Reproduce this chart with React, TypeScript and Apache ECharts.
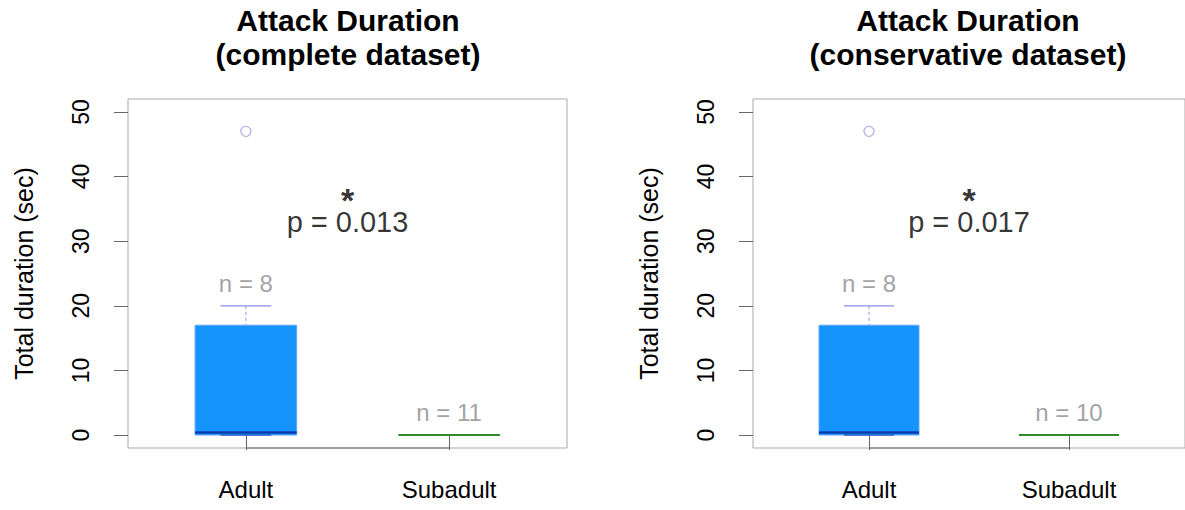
import React, { useEffect, useRef } from 'react';
import * as echarts from 'echarts';

// ---------- data ----------
const categories = ['Adult', 'Subadult'];
const yTicks = [0, 10, 20, 30, 40, 50];
const panelTitles = [
  ['Attack Duration', '(complete dataset)'],
  ['Attack Duration', '(conservative dataset)'],
];
// each row: [min, Q1, median, Q3, max]
const completeBoxes = [
  [0, 0, 0.4, 17, 20],
  [0, 0, 0, 0, 0],
];
const conservativeBoxes = [
  [0, 0, 0.4, 17, 20],
  [0, 0, 0, 0, 0],
];
const completeOutliers = [[1, 47]];
const conservativeOutliers = [[1, 47]];
const completeN = ['n = 8', 'n = 11'];
const conservativeN = ['n = 8', 'n = 10'];
const nLabelY = [23.5, 3.5];
const pTexts = ['p = 0.013', 'p = 0.017'];
const pLabelPos = [1.5, 33];
const starPos = [1.5, 36.4];
const yMin = -2;

// ---------- styles ----------
const FONT = '"Liberation Sans", Arial, Helvetica, sans-serif';
const boxStyles = [
  { fill: '#1493FA', border: '#6AA8F2', median: '#0A3CB0', whisker: '#8C8CE6', medianWidth: 2.5, full: true },
  { fill: '#1493FA', border: '#2E8B2E', median: '#2E8B2E', whisker: '#2E8B2E', medianWidth: 2, full: false },
];
const grids = [
  { left: 128, top: 99, width: 439, height: 349 },
  { left: 753, top: 99, width: 438, height: 349 },
];
const titleCenters = [348, 968];

function renderBox(params: any, api: any) {
  const x = api.value(0);
  const mn = api.value(1);
  const q1 = api.value(2);
  const md = api.value(3);
  const q3 = api.value(4);
  const mx = api.value(5);
  const st = boxStyles[params.dataIndex];
  const children: any[] = [];
  if (st.full) {
    const tl = api.coord([x - 0.25, q3]);
    const br = api.coord([x + 0.25, q1]);
    children.push({
      type: 'rect',
      shape: { x: tl[0], y: tl[1], width: br[0] - tl[0], height: br[1] - tl[1] },
      style: { fill: st.fill, stroke: st.border, lineWidth: 1 },
    });
    const wTop = api.coord([x, mx]);
    const wBot = api.coord([x, q3]);
    children.push({
      type: 'line',
      shape: { x1: wTop[0], y1: wTop[1], x2: wBot[0], y2: wBot[1] },
      style: { stroke: st.whisker, lineWidth: 1, lineDash: [3, 3] },
    });
    const c1 = api.coord([x - 0.125, mx]);
    const c2 = api.coord([x + 0.125, mx]);
    children.push({
      type: 'line',
      shape: { x1: c1[0], y1: c1[1], x2: c2[0], y2: c2[1] },
      style: { stroke: st.whisker, lineWidth: 1.2 },
    });
    const l1 = api.coord([x - 0.125, mn]);
    const l2 = api.coord([x + 0.125, mn]);
    children.push({
      type: 'line',
      shape: { x1: l1[0], y1: l1[1], x2: l2[0], y2: l2[1] },
      style: { stroke: st.median, lineWidth: 1 },
    });
  }
  const m1 = api.coord([x - 0.25, md]);
  const m2 = api.coord([x + 0.25, md]);
  children.push({
    type: 'line',
    shape: { x1: m1[0], y1: m1[1], x2: m2[0], y2: m2[1] },
    style: { stroke: st.median, lineWidth: st.medianWidth },
  });
  return { type: 'group', children };
}

function renderAxisSegment(_params: any, api: any) {
  const a = api.coord([api.value(0), yMin]);
  const b = api.coord([api.value(1), yMin]);
  return {
    type: 'line',
    shape: { x1: a[0], y1: a[1], x2: b[0], y2: b[1] },
    style: { stroke: '#666', lineWidth: 1 },
  };
}

function panelSeries(i: number, boxes: number[][], outliers: number[][], nTexts: string[], pText: string) {
  return [
    {
      type: 'custom',
      xAxisIndex: i,
      yAxisIndex: i,
      renderItem: renderAxisSegment,
      encode: { x: [0, 1] },
      data: [[1, categories.length]],
      silent: true,
      clip: false,
    },
    {
      type: 'custom',
      xAxisIndex: i,
      yAxisIndex: i,
      renderItem: renderBox,
      encode: { x: 0, y: [1, 2, 3, 4, 5] },
      data: boxes.map((b, k) => [k + 1, ...b]),
      silent: true,
    },
    {
      type: 'scatter',
      xAxisIndex: i,
      yAxisIndex: i,
      symbol: 'circle',
      symbolSize: 10,
      itemStyle: { color: 'rgba(0,0,0,0)', borderColor: '#9C9CE8', borderWidth: 1.2 },
      data: outliers,
      silent: true,
    },
    {
      type: 'scatter',
      xAxisIndex: i,
      yAxisIndex: i,
      symbolSize: 0,
      data: nLabelY.map((y, k) => [k + 1, y]),
      label: {
        show: true,
        position: 'inside',
        formatter: (p: any) => nTexts[p.dataIndex],
        color: '#8A8A8A',
        fontSize: 24,
        fontFamily: FONT,
      },
      silent: true,
    },
    {
      type: 'scatter',
      xAxisIndex: i,
      yAxisIndex: i,
      symbolSize: 0,
      data: [pLabelPos],
      label: {
        show: true,
        position: 'inside',
        formatter: () => pText,
        color: '#000',
        fontSize: 29,
        lineHeight: 28,
        fontFamily: FONT,
      },
      silent: true,
    },
    {
      type: 'scatter',
      xAxisIndex: i,
      yAxisIndex: i,
      symbolSize: 0,
      data: [starPos],
      label: {
        show: true,
        position: 'inside',
        formatter: () => '*',
        color: '#000',
        fontSize: 34,
        lineHeight: 18,
        fontWeight: 'bold',
        fontFamily: FONT,
      },
      silent: true,
    },
  ];
}

export default function App() {
  const ref = useRef<HTMLDivElement>(null);
  useEffect(() => {
    if (!ref.current) return;
    const chart = echarts.init(ref.current, undefined, { renderer: 'svg' });
    const titles: any[] = [];
    panelTitles.forEach((lines, i) => {
      lines.forEach((t, j) => {
        titles.push({
          text: t,
          left: titleCenters[i],
          top: j === 0 ? 4 : 38,
          textAlign: 'center',
          padding: 0,
          textStyle: { fontSize: 30, fontWeight: 'bold', color: '#000', fontFamily: FONT, lineHeight: 32 },
        });
      });
    });
    const xAxes = grids.map((_, i) => ({
      type: 'value',
      gridIndex: i,
      min: 0.42,
      max: 2.58,
      axisLine: { show: false },
      splitLine: { show: false },
      axisTick: { show: true, customValues: [1, 2], length: 15, lineStyle: { color: '#666' } },
      axisLabel: {
        show: true,
        customValues: [1, 2],
        formatter: (v: number) => categories[Math.round(v) - 1] ?? '',
        fontSize: 24,
        color: '#000',
        margin: 29,
        fontFamily: FONT,
      },
    }));
    const yAxes = grids.map((_, i) => ({
      type: 'value',
      gridIndex: i,
      min: yMin,
      max: 52,
      axisLine: { show: false },
      splitLine: { show: false },
      axisTick: { show: true, customValues: yTicks, length: 14, lineStyle: { color: '#666' } },
      axisLabel: {
        show: true,
        customValues: yTicks,
        rotate: 90,
        fontSize: 23,
        color: '#000',
        margin: 36,
        fontFamily: FONT,
      },
      name: 'Total duration (sec)',
      nameLocation: 'middle',
      nameRotate: 90,
      nameGap: 92,
      nameTextStyle: { fontSize: 25, color: '#000', fontFamily: FONT },
    }));
    chart.setOption({
      animation: false,
      backgroundColor: '#fff',
      title: titles,
      grid: grids.map((g) => ({ ...g, show: true, borderColor: '#aaa', borderWidth: 1, backgroundColor: 'transparent' })),
      xAxis: xAxes,
      yAxis: yAxes,
      series: [
        ...panelSeries(0, completeBoxes, completeOutliers, completeN, pTexts[0]),
        ...panelSeries(1, conservativeBoxes, conservativeOutliers, conservativeN, pTexts[1]),
      ],
    });
    return () => chart.dispose();
  }, []);
  return (
    <div
      ref={ref}
      style={{ position: 'absolute', left: 0, top: 0, width: 1185, height: 510 }}
    />
  );
}
